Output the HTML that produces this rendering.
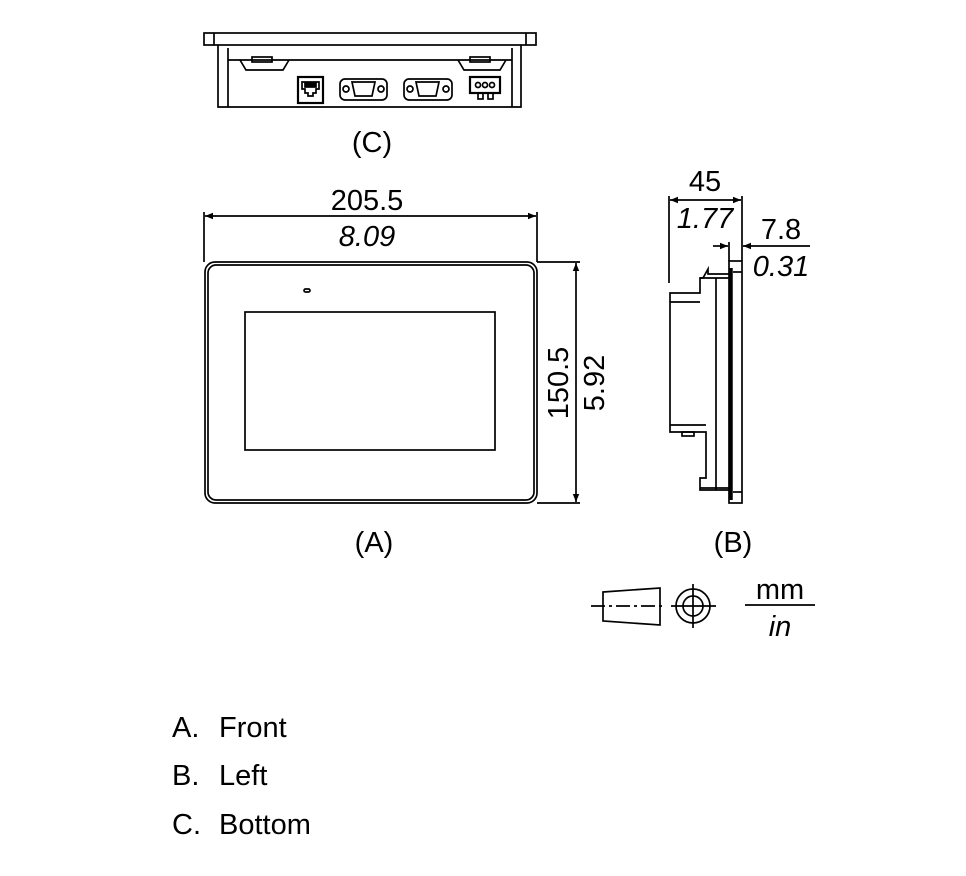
<!DOCTYPE html>
<html><head><meta charset="utf-8"><style>
html,body{margin:0;padding:0;background:#fff;}
svg{display:block;font-family:"Liberation Sans",sans-serif;}
</style></head><body>
<svg width="966" height="876" viewBox="0 0 966 876" xmlns="http://www.w3.org/2000/svg">
<defs>
<marker id="a" viewBox="0 0 10 10" refX="10" refY="5" markerWidth="12" markerHeight="8" orient="auto-start-reverse" markerUnits="userSpaceOnUse"><path d="M0,1 L10,5 L0,9 Z" fill="#000"/></marker>
</defs>
<g fill="none" stroke="#000" stroke-width="1.7">
<rect x="204" y="33" width="332" height="12"/>
<line x1="214" y1="33" x2="214" y2="45"/><line x1="526" y1="33" x2="526" y2="45"/>
<path d="M218,45 L218,107 L521,107 L521,45"/>
<line x1="228" y1="48" x2="228" y2="107"/><line x1="512" y1="48" x2="512" y2="107"/>
<line x1="228" y1="60" x2="512" y2="60"/>
<path d="M240,60 L246,70 L283,70 L289,60"/>
<rect x="252" y="57" width="20" height="5"/>
<path d="M458,60 L464,70 L500,70 L506,60"/>
<rect x="470" y="57" width="20" height="5"/>
<rect x="298" y="77" width="25" height="26" stroke-width="2.2"/>
<path d="M302,82 h17 v7 h-3 v4 h-3 v3 h-5 v-3 h-3 v-4 h-3 z"/>
<rect x="305" y="83" width="11" height="4" fill="#000"/>
<rect x="340" y="79" width="47" height="21" rx="5"/>
<path d="M352,82 h23 l-3,14 h-17 z"/>
<circle cx="346" cy="89" r="3"/><circle cx="381" cy="89" r="3"/>
<rect x="404" y="79" width="48" height="21" rx="5"/>
<path d="M416,82 h23 l-3,14 h-17 z"/>
<circle cx="410" cy="89" r="3"/><circle cx="446" cy="89" r="3"/>
<rect x="470" y="77" width="30" height="16" stroke-width="2.2"/>
<circle cx="478" cy="85" r="2.5"/><circle cx="485" cy="85" r="2.5"/><circle cx="492" cy="85" r="2.5"/>
<rect x="478" y="93" width="5" height="6"/><rect x="488" y="93" width="5" height="6"/>
<rect x="205" y="262" width="332" height="241" rx="10"/>
<rect x="208" y="265" width="326" height="235" rx="8"/>
<rect x="245" y="312" width="250" height="138"/>
<rect x="304" y="289" width="6" height="3" rx="1.5"/>
<line x1="204" y1="212" x2="204" y2="262"/><line x1="537" y1="212" x2="537" y2="262"/>
<line x1="205" y1="216" x2="536" y2="216" marker-start="url(#a)" marker-end="url(#a)"/>
<line x1="537" y1="262" x2="580" y2="262"/><line x1="537" y1="503" x2="580" y2="503"/>
<line x1="576" y1="263" x2="576" y2="502" marker-start="url(#a)" marker-end="url(#a)"/>
<rect x="729" y="261" width="13" height="242"/>
<line x1="731" y1="268" x2="731" y2="500" stroke-width="3.5"/>
<line x1="733" y1="272" x2="742" y2="272"/><line x1="733" y1="492" x2="742" y2="492"/>
<path d="M729,274 L708,274 L708,269 L703,278 L700,278 L700,293 L670,293 L670,432 L706,432 L706,478 L700,478 L700,490 L729,490"/>
<line x1="716" y1="278" x2="716" y2="490"/>
<line x1="700" y1="278" x2="729" y2="278"/><line x1="700" y1="488" x2="729" y2="488"/>
<line x1="670" y1="302" x2="700" y2="302"/><line x1="670" y1="425" x2="706" y2="425"/>
<rect x="682" y="432" width="12" height="4"/>
<line x1="669" y1="196" x2="669" y2="283"/><line x1="742" y1="196" x2="742" y2="261"/>
<line x1="670" y1="200" x2="741" y2="200" marker-start="url(#a)" marker-end="url(#a)"/>
<line x1="729" y1="242" x2="729" y2="261"/>
<line x1="713" y1="246" x2="728" y2="246" marker-end="url(#a)"/>
<line x1="810" y1="246" x2="743" y2="246" marker-end="url(#a)"/>
<path d="M603,592 L660,588 L660,625 L603,621 Z"/>
<line x1="591" y1="606" x2="664" y2="606" stroke-dasharray="14,4,3,4"/>
<circle cx="693" cy="606" r="17"/><circle cx="693" cy="606" r="10"/>
<line x1="693" y1="584" x2="693" y2="628"/><line x1="671" y1="606" x2="716" y2="606"/>
<line x1="745" y1="605" x2="815" y2="605"/>
</g>
<g font-size="29" fill="#000" text-anchor="middle">
<text x="372" y="152">(C)</text>
<text x="367" y="210">205.5</text>
<text x="367" y="246" font-style="italic">8.09</text>
<text transform="translate(568,383) rotate(-90)">150.5</text>
<text transform="translate(604,383) rotate(-90)">5.92</text>
<text x="374" y="552">(A)</text>
<text x="733" y="552">(B)</text>
<text x="705" y="191">45</text>
<text x="705" y="228" font-style="italic">1.77</text>
<text x="781" y="239">7.8</text>
<text x="781" y="276" font-style="italic">0.31</text>
<text x="780" y="599">mm</text>
<text x="780" y="636" font-style="italic">in</text>
</g>
<g font-size="29" fill="#000">
<text x="172" y="737">A.</text><text x="219" y="737">Front</text>
<text x="172" y="785">B.</text><text x="219" y="785">Left</text>
<text x="172" y="834">C.</text><text x="219" y="834">Bottom</text>
</g>
</svg>
</body></html>
